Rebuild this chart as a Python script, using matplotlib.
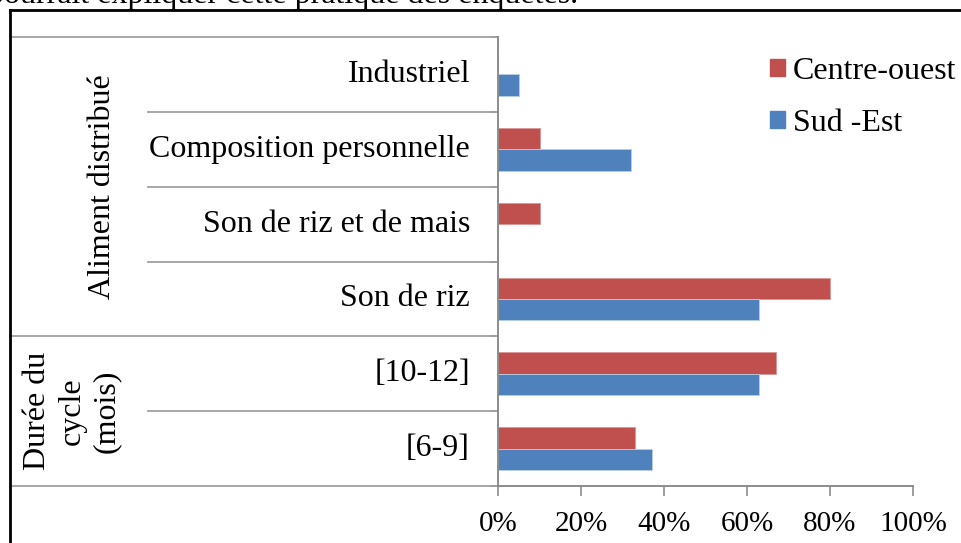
import matplotlib.pyplot as plt
from matplotlib.lines import Line2D
from matplotlib.patches import Patch

plt.rcParams['font.family'] = ['Liberation Serif', 'DejaVu Serif']

# categories bottom -> top
categories = ['[6-9]', '[10-12]', 'Son de riz', 'Son de riz et de mais',
              'Composition personnelle', 'Industriel']
centre_ouest = [33, 67, 80, 10, 10, 0]
sud_est = [37, 63, 63, 0, 32, 5]
series_names = ['Centre-ouest', 'Sud -Est']
ticks = [0, 20, 40, 60, 80, 100]

red = '#C0504D'
blue = '#4F81BD'
grey = '#8C8C8C'
fs_tick = 21
fs = 23

W, H = 961, 543
fig = plt.figure(figsize=(W / 100, H / 100), dpi=100)
ax = fig.add_axes([498 / W, 57 / H, 415 / W, 449 / H])

y = list(range(len(categories)))
bh = 0.285
ax.barh([v + 0.143 for v in y], centre_ouest, height=bh, color=red,
        edgecolor='#D99694', linewidth=0.6)
ax.barh([v - 0.143 for v in y], sud_est, height=bh, color=blue,
        edgecolor='#B9CDE5', linewidth=0.6)

ax.set_xlim(0, 100)
ax.set_ylim(-0.5, len(categories) - 0.5)
ax.set_xticks(ticks)
ax.set_xticklabels([f'{t}%' for t in ticks], fontsize=fs_tick)
ax.tick_params(axis='x', length=7, width=1.2, color=grey, pad=11)
ax.set_yticks([v - 0.5 for v in range(len(categories) + 1)])
ax.set_yticklabels([])
ax.tick_params(axis='y', length=6, width=1.2, color=grey)

for s in ['top', 'right']:
    ax.spines[s].set_visible(False)
for s in ['left', 'bottom']:
    ax.spines[s].set_color(grey)
    ax.spines[s].set_linewidth(1.4)

# multi-level category axis
tr = ax.get_yaxis_transform()
ppx = 1 / 415  # axes fraction per pixel
for i, c in enumerate(categories):
    ax.text(-28 * ppx, i, c, transform=tr, ha='right', va='center',
            fontsize=fs)

line_kw = dict(transform=tr, clip_on=False, color='#A0A0A0', lw=1.3)
x_full = -488 * ppx
x_inner = -350 * ppx
for b in [-0.5, 1.5, 5.5]:
    ax.plot([x_full, 0], [b, b], **line_kw)
for b in [0.5, 2.5, 3.5, 4.5]:
    ax.plot([x_inner, 0], [b, b], **line_kw)

ax.text(-395 * ppx, 3.5, 'Aliment distribué', transform=tr, rotation=90,
        ha='center', va='center', fontsize=fs)
ax.text(-426 * ppx, 0.5, 'Durée du\ncycle\n(mois)', transform=tr,
        rotation=90, ha='center', va='center', fontsize=fs,
        multialignment='center', linespacing=1.25)

# legend
handles = [Patch(color=red), Patch(color=blue)]
fig.legend(handles, series_names, loc='upper left',
           bbox_to_anchor=(770 / W, 1 - 57 / H), frameon=False, fontsize=fs,
           handlelength=0.47, handleheight=0.47, handletextpad=0.25,
           labelspacing=0.72, borderpad=0, borderaxespad=0)

# page frame and cut-off text above
fig.add_artist(Line2D([10 / W, 1], [1 - 10 / H, 1 - 10 / H], color='black',
                      lw=2, transform=fig.transFigure))
fig.add_artist(Line2D([10 / W, 10 / W], [0, 1 - 10 / H], color='black',
                      lw=2, transform=fig.transFigure))
fig.text(-12 / W, 1 - 3 / H, 'pourrait expliquer cette pratique des enquêtes.',
         ha='left', va='baseline', fontsize=fs)

fig.savefig('out.png', dpi=100)
